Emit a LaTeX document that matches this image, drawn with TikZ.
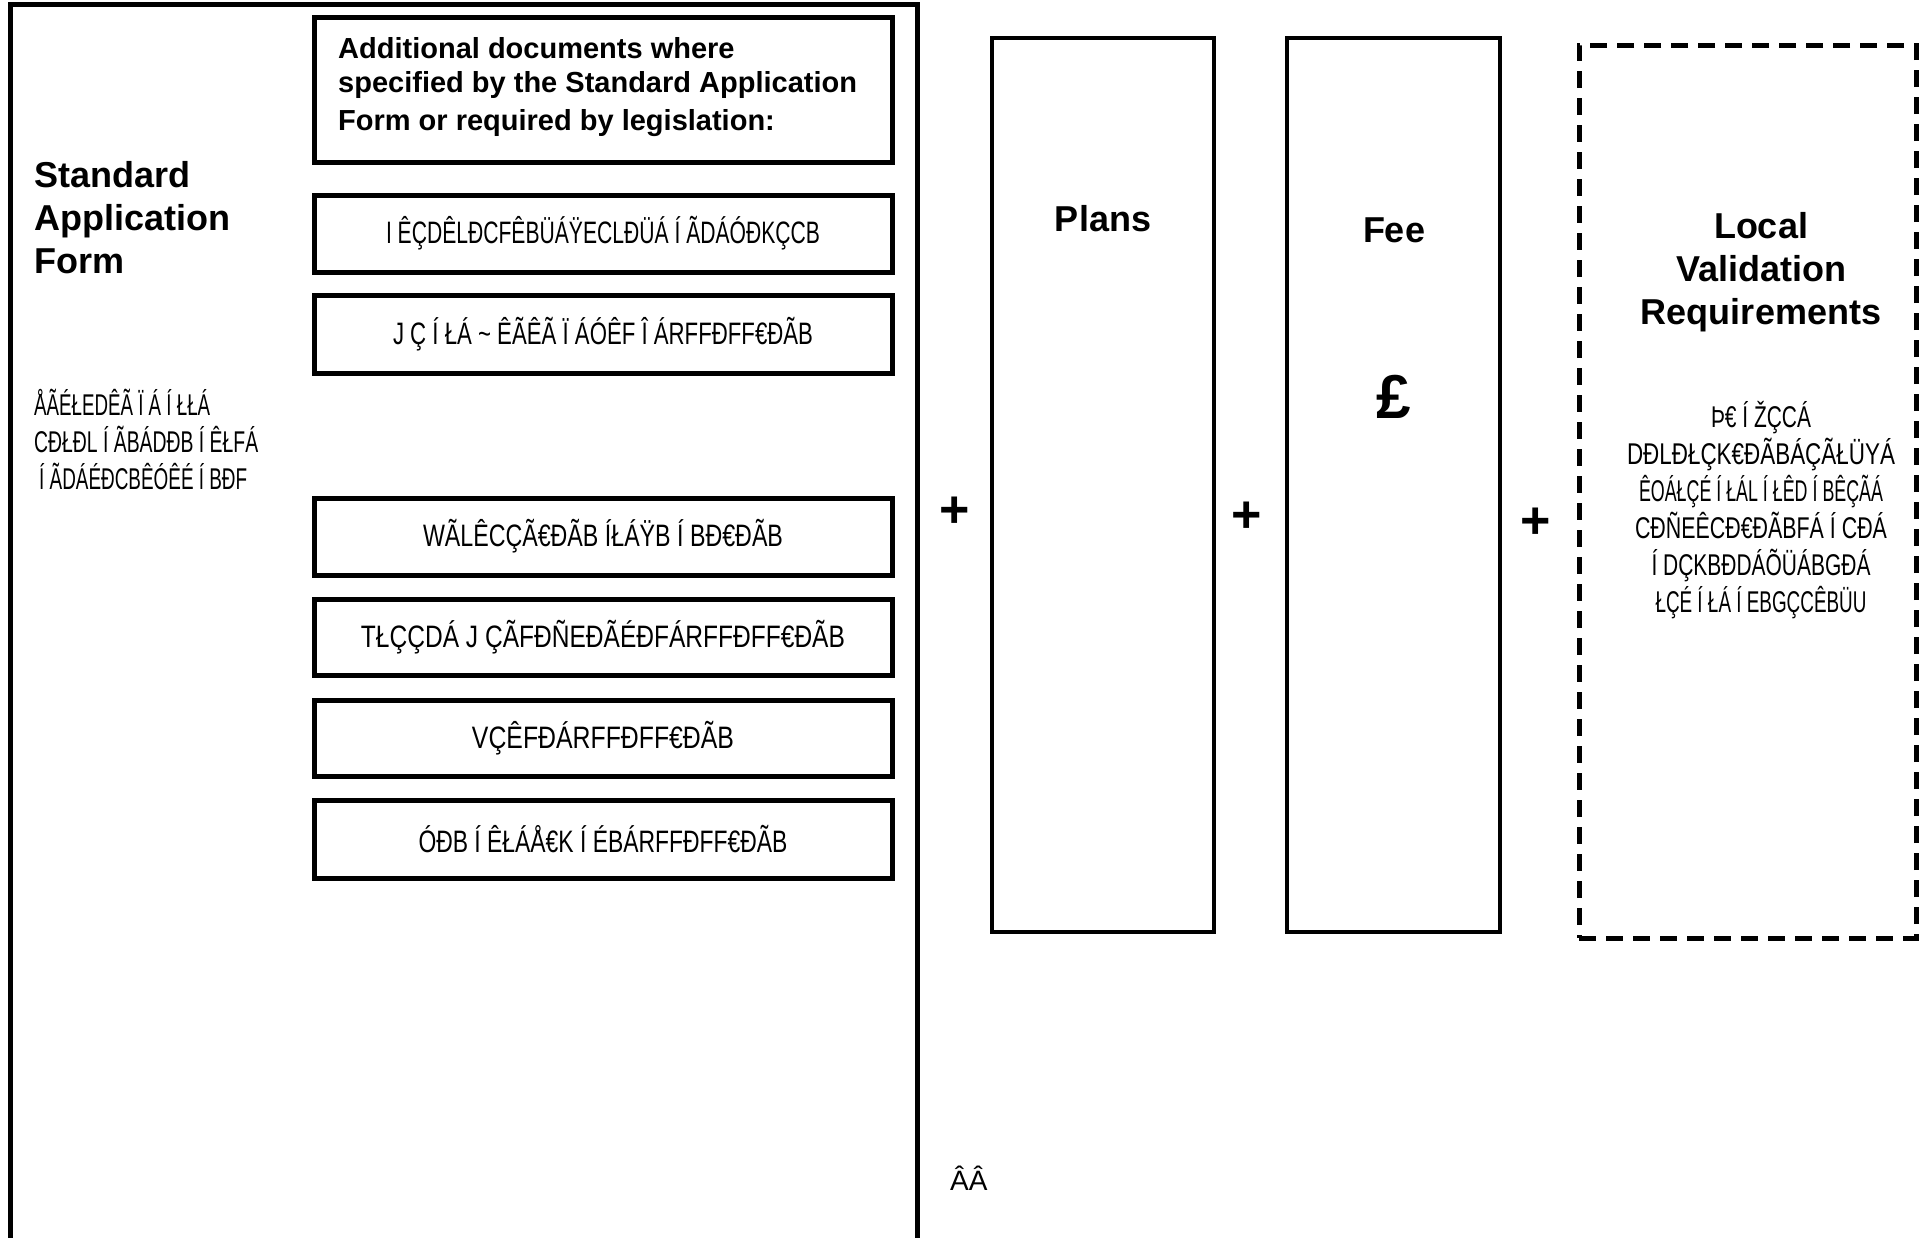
\documentclass[tikz,border=0pt]{standalone}
\usepackage{fontspec}
\setmainfont{Liberation Sans}
\usepackage{graphicx}
\newcommand\gar[2]{\resizebox{#1pt}{\height}{#2}}
\begin{document}
\begin{tikzpicture}[x=1pt,y=-1pt,
  docbox/.style={draw, line width=5pt, minimum width=578pt, minimum height=77pt, inner sep=0pt,
    font=\fontsize{31}{34}\selectfont},
  tallbox/.style={draw, line width=4pt, minimum height=894pt, inner sep=0pt},
  dashbox/.style={draw, line width=5pt, dash pattern=on 17pt off 10pt, minimum height=893pt, inner sep=0pt},
  title/.style={font=\fontsize{36}{43}\selectfont\bfseries, align=center, inner sep=0pt},
  garb/.style={font=\fontsize{30}{37}\selectfont, inner sep=0pt},
  plus/.style={font=\fontsize{52}{52}\selectfont\bfseries, inner sep=0pt}]
\useasboundingbox (0,0) rectangle (1922,1237);
\fill[white] (0,0) rectangle (1922,1237);
% outer frame
\coordinate (ol) at (10,1260);
\coordinate (or) at (917,1260);
\draw[line width=5pt] (ol) -- (10,4) -- (917,4) -- (or);
% Standard Application Form
\node[title, align=left, anchor=north west] (saf) at (34,161) {Standard\\Application\\Form};
\node[garb, align=left, anchor=north west] (saftxt) at (34,389)
  {\gar{176}{ÅÃÉŁEDÊÃ Ï Á Í ŁŁÁ}\\\gar{224}{CÐŁÐL Í ÃBÁDÐB Í ÊŁFÁ}\\\hspace*{5pt}\gar{208}{Í ÃDÁÉÐCBÊÓÊÉ Í BÐF}};
% additional documents
\node[draw, line width=5pt, minimum width=578pt, minimum height=145pt, inner sep=0pt] (add) at (603,89.5) {};
\node[font=\fontsize{29}{34}\selectfont\bfseries, align=left, anchor=north west, inner sep=0pt] (addtxt) at (338,37)
  {Additional documents where\\specified by the Standard Application\\[4pt]Form or required by legislation:};
\node[docbox] (b1) at (603,233.5) {\gar{434}{I ÊÇDÊLÐCFÊBÜÁŸECLÐÜÁ Í ÃDÁÓÐKÇCB}};
\node[docbox, minimum height=78pt] (b2) at (603,334) {\gar{420}{J Ç Í ŁÁ \textasciitilde\ ÊÃÊÃ Ï ÁÓÊF Î ÁRFFÐFF€ÐÃB}};
\node[docbox] (b3) at (603,536.5) {\gar{360}{WÃLÊCÇÃ€ÐÃB ÍŁÁŸB Í BÐ€ÐÃB}};
\node[docbox, minimum height=76pt] (b4) at (603,637) {\gar{484}{TŁÇÇDÁ J ÇÃFÐÑEÐÃÉÐFÁRFFÐFF€ÐÃB}};
\node[docbox, minimum height=76pt] (b5) at (603,738) {\gar{262}{VÇÊFÐÁRFFÐFF€ÐÃB}};
\node[docbox, minimum height=78pt] (b6) at (603,839) {\gar{369}{ÓÐB Í ÊŁÁÅ€K Í ÉBÁRFFÐFF€ÐÃB}};
% pluses
\node[plus] (p1) at (955,512) {+};
\node[plus] (p2) at (1247,517) {+};
\node[plus] (p3) at (1536,523) {+};
% Plans
\node[tallbox, minimum width=222pt] (plans) at (1103,485) {};
\node[title] (planst) at (1103,219) {Plans};
% Fee
\node[tallbox, minimum width=213pt] (fee) at (1393.5,485) {};
\node[title] (feet) at (1394,230) {Fee};
\node[font=\fontsize{62}{62}\selectfont\bfseries, inner sep=0pt] (pound) at (1394,397) {£};
% Local validation
\node[dashbox, minimum width=337pt] (local) at (1747.5,491.5) {};
\node[title, anchor=north] (localt) at (1761,212) {Local\\Validation\\Requirements};
\node[garb, align=center, anchor=north] (localtxt) at (1761,401)
  {\gar{100}{Þ€ Í ŽÇCÁ}\\\gar{268}{DÐLÐŁÇK€ÐÃBÁÇÃŁÜYÁ}\\\gar{244}{ÊOÁŁÇÉ Í ŁÁL Í ŁÊD Í BÊÇÃÁ}\\\gar{252}{CÐÑEÊCÐ€ÐÃBFÁ Í CÐÁ}\\\gar{219}{Í DÇKBÐDÁÕÜÁBGÐÁ}\\\gar{211}{ŁÇÉ Í ŁÁ Í EBGÇCÊBÜU}};
% bottom stray text
\node[garb, anchor=west, font=\fontsize{28}{34}\selectfont] (aa) at (950,1178) {ÂÂ};
\end{tikzpicture}
\end{document}
